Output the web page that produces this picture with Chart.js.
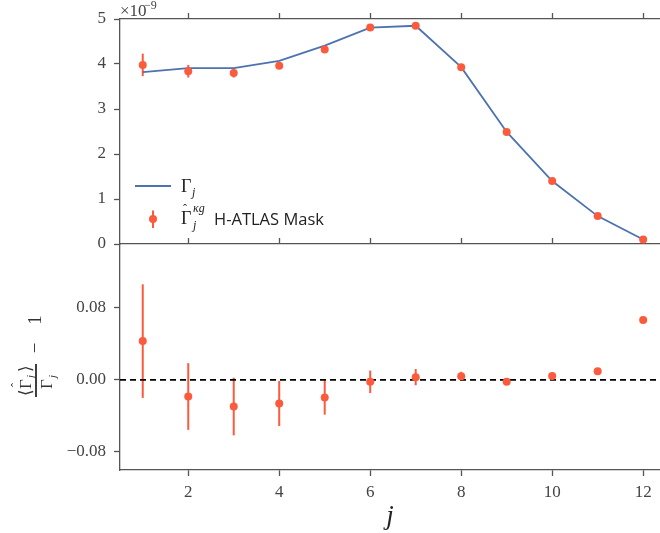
<!DOCTYPE html>
<html>
<head>
<meta charset="utf-8">
<script src="https://cdn.jsdelivr.net/npm/chart.js@4.4.1/dist/chart.umd.min.js"></script>
<style>
  body { margin: 0; background: #fff; }
  #wrap { position: relative; width: 660px; height: 533px; overflow: hidden; }
  canvas { position: absolute; left: 0; }
  #top-chart { top: 0; }
  #ratio-chart { top: 238px; }
</style>
</head>
<body>
<div id="wrap">
  <canvas id="ratio-chart" width="660" height="295"></canvas>
  <canvas id="top-chart" width="660" height="262"></canvas>
</div>
<script>
// needlet bins
const jValues = [1, 2, 3, 4, 5, 6, 7, 8, 9, 10, 11, 12];
// Gamma_j in units of 1e-9
const gammaTheory = [3.82, 3.91, 3.91, 4.07, 4.41, 4.81, 4.85, 3.93, 2.49, 1.40, 0.62, 0.10];
const gammaMeasured = [3.98, 3.84, 3.80, 3.96, 4.32, 4.81, 4.85, 3.93, 2.49, 1.40, 0.62, 0.10];
const gammaErr = [0.25, 0.14, 0.10, 0.07, 0.04, 0.03, 0.02, 0.01, 0.01, 0.01, 0.01, 0.01];
// <Gamma_hat>/Gamma - 1
const ratio = [0.043, -0.0185, -0.0296, -0.0262, -0.0196, -0.0022, 0.003, 0.004, -0.0022, 0.0044, 0.0096, 0.0665];
const ratioErr = [0.063, 0.037, 0.032, 0.025, 0.019, 0.0125, 0.009, 0.005, 0, 0, 0, 0];

const jTicks = [2, 4, 6, 8, 10, 12];
const gammaTicks = [0, 1, 2, 3, 4, 5];
const ratioTicks = [-0.08, 0, 0.08];

const xMin = 0.5, xMax = 12.37;
const gammaMin = 0, gammaMax = 5;
const ratioMin = -0.1, ratioMax = 0.1507;

const orange = "#fc5a3c";
const blue = "#4c72b0";
const axisGray = "#555555";
const textGray = "#444444";
const serif = "'Liberation Serif', 'DejaVu Serif', serif";

const toPoints = (ys) => jValues.map((j, i) => ({ x: j, y: ys[i] }));
const fixTicks = (list) => (scale) => { scale.ticks = list.map(v => ({ value: v })); };
const noPad = (s) => { s.paddingTop = 0; s.paddingBottom = 0; s.paddingLeft = 0; s.paddingRight = 0; };

const errorBars = {
    id: "errorBars",
    beforeDatasetsDraw(chart) {
        const ds = chart.data.datasets[0];
        const xs = chart.scales.x, ys = chart.scales.y;
        const ctx = chart.ctx;
        ctx.save();
        ctx.strokeStyle = orange;
        ctx.lineWidth = 2;
        ds.data.forEach((p, i) => {
            const e = ds.errors[i];
            if (!e) return;
            const px = xs.getPixelForValue(p.x);
            ctx.beginPath();
            ctx.moveTo(px, ys.getPixelForValue(p.y - e));
            ctx.lineTo(px, ys.getPixelForValue(p.y + e));
            ctx.stroke();
        });
        ctx.restore();
    }
};

function tickAxis(position, height, extra) {
    return Object.assign({
        type: "linear",
        position: position,
        min: xMin,
        max: xMax,
        afterBuildTicks: fixTicks(jTicks),
        afterFit: (s) => { s.height = height; noPad(s); },
        ticks: { display: false },
        grid: { drawOnChartArea: false, tickLength: 6, tickWidth: 1.3, tickColor: axisGray },
        border: { color: axisGray, width: 1.3 }
    }, extra);
}

function yAxis(min, max, ticks, fmt) {
    return {
        min: min,
        max: max,
        afterBuildTicks: fixTicks(ticks),
        afterFit: (s) => { s.width = 120; noPad(s); },
        ticks: { color: textGray, font: { family: serif, size: 17 }, padding: 8, callback: fmt },
        grid: { drawOnChartArea: false, tickLength: 6, tickWidth: 1.3, tickColor: axisGray },
        border: { color: axisGray, width: 1.3 }
    };
}

// legend and exponent for the top panel
const topDecor = {
    id: "topDecor",
    afterDraw(chart) {
        const ctx = chart.ctx;
        ctx.save();
        ctx.fillStyle = textGray;
        ctx.textBaseline = "alphabetic";
        ctx.font = "17px " + serif;
        ctx.fillText("×10", 120, 16);
        ctx.font = "12px " + serif;
        ctx.fillText("−9", 144, 9);

        // legend
        ctx.strokeStyle = blue;
        ctx.lineWidth = 1.8;
        ctx.beginPath();
        ctx.moveTo(135, 186);
        ctx.lineTo(171, 186);
        ctx.stroke();
        ctx.fillStyle = "#222";
        ctx.font = "18px " + serif;
        ctx.fillText("Γ", 181, 192);
        ctx.font = "italic 12px " + serif;
        ctx.fillText("j", 192, 196);

        ctx.strokeStyle = orange;
        ctx.lineWidth = 2;
        ctx.beginPath();
        ctx.moveTo(153, 210.5);
        ctx.lineTo(153, 228);
        ctx.stroke();
        ctx.fillStyle = orange;
        ctx.beginPath();
        ctx.arc(153, 219, 4, 0, Math.PI * 2);
        ctx.fill();

        ctx.fillStyle = "#222";
        ctx.font = "18px " + serif;
        ctx.fillText("Γ", 181, 224);
        ctx.font = "12px " + serif;
        ctx.fillText("ˆ", 183, 213);
        ctx.font = "italic 12px " + serif;
        ctx.fillText("j", 193, 229);
        ctx.fillText("κg", 193, 212);
        ctx.font = "16.5px 'Open Sans', 'DejaVu Sans', sans-serif";
        ctx.fillText("H-ATLAS Mask", 214, 225);
        ctx.restore();
    }
};

// rotated fraction label for the ratio panel
const ratioDecor = {
    id: "ratioDecor",
    afterDraw(chart) {
        const ctx = chart.ctx;
        ctx.save();
        ctx.translate(36, 397 - 238);
        ctx.rotate(-Math.PI / 2);
        ctx.fillStyle = "#111";
        ctx.fillRect(0, -0.8, 33, 1.6);
        ctx.fillStyle = "#333";
        ctx.textBaseline = "alphabetic";
        ctx.font = "17px " + serif;
        ctx.fillText("⟨", 1, -5);
        ctx.fillText("Γ", 8, -5);
        ctx.font = "12px " + serif;
        ctx.fillText("ˆ", 10, -16);
        ctx.font = "italic 11px " + serif;
        ctx.fillText("j", 19, -2);
        ctx.font = "17px " + serif;
        ctx.fillText("⟩", 25, -5);
        ctx.fillText("Γ", 8, 16);
        ctx.font = "italic 11px " + serif;
        ctx.fillText("j", 19, 20);
        ctx.font = "19px " + serif;
        ctx.textBaseline = "middle";
        ctx.textAlign = "center";
        ctx.fillText("−", 49, 0);
        ctx.fillText("1", 77, 0);
        ctx.restore();
    }
};

new Chart(document.getElementById("top-chart"), {
    type: "scatter",
    data: {
        datasets: [
            {
                label: "measured",
                data: toPoints(gammaMeasured),
                errors: gammaErr,
                backgroundColor: orange,
                borderWidth: 0,
                pointRadius: 4,
                clip: false
            },
            {
                type: "line",
                label: "theory",
                data: toPoints(gammaTheory),
                borderColor: blue,
                borderWidth: 1.8,
                pointRadius: 0,
                fill: false,
                tension: 0,
                clip: false
            }
        ]
    },
    options: {
        responsive: false,
        animation: false,
        layout: { autoPadding: false, padding: { top: 0, left: 0, right: 0, bottom: 18 } },
        plugins: { legend: { display: false }, tooltip: { enabled: false } },
        scales: {
            x: tickAxis("top", 19, {}),
            y: yAxis(gammaMin, gammaMax, gammaTicks, (v) => String(v))
        }
    },
    plugins: [errorBars, topDecor]
});

new Chart(document.getElementById("ratio-chart"), {
    type: "scatter",
    data: {
        datasets: [
            {
                label: "ratio",
                data: toPoints(ratio),
                errors: ratioErr,
                backgroundColor: orange,
                borderWidth: 0,
                pointRadius: 4,
                clip: false
            },
            {
                type: "line",
                label: "zero",
                data: [{ x: xMin, y: 0 }, { x: xMax, y: 0 }],
                borderColor: "#000",
                borderWidth: 1.6,
                borderDash: [6, 4],
                pointRadius: 0,
                fill: false
            }
        ]
    },
    options: {
        responsive: false,
        animation: false,
        layout: { autoPadding: false, padding: 0 },
        plugins: { legend: { display: false }, tooltip: { enabled: false } },
        scales: {
            x: tickAxis("bottom", 63, {
                ticks: { display: true, color: textGray, font: { family: serif, size: 17 }, padding: 6 },
                title: { display: true, text: "j", color: "#222", font: { family: serif, size: 27, style: "italic" }, padding: { top: 0, bottom: 0 } }
            }),
            xt: tickAxis("top", 6, {}),
            y: yAxis(ratioMin, ratioMax, ratioTicks,
                (v) => (v < 0 ? "−" : "") + Math.abs(v).toFixed(2))
        }
    },
    plugins: [errorBars, ratioDecor]
});
</script>
</body>
</html>
